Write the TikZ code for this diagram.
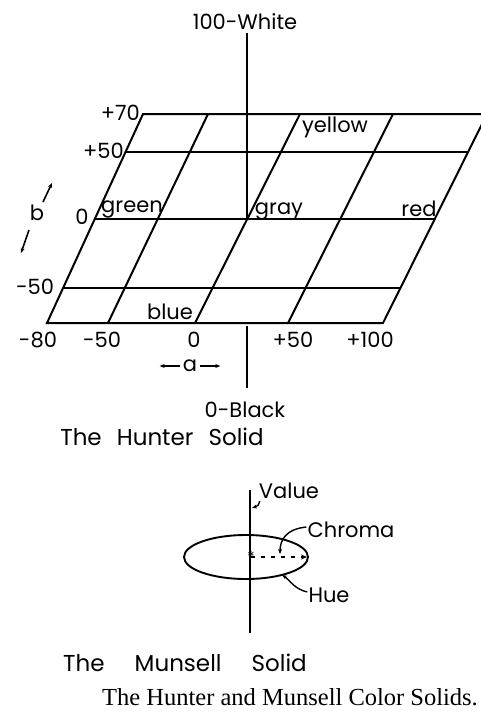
\documentclass[tikz,border=0pt]{standalone}
\usepackage{fontspec}
\setmainfont{Poppins}
\newfontfamily\capfont{Liberation Serif}
\usetikzlibrary{arrows.meta}
\begin{document}
\begin{tikzpicture}[x=1pt,y=-1pt,
  grid/.style={line width=2pt, line cap=round},
  axis/.style={line width=2.4pt},
  lbl/.style={inner sep=0pt, font=\fontsize{21}{22}\selectfont},
  ttl/.style={inner sep=0pt, font=\fontsize{23}{24}\selectfont},
  lead/.style={line width=1.4pt, -{Stealth[length=5pt,width=4pt]}},
  small/.style={line width=1.6pt, -{Stealth[length=5pt,width=4pt]}}]
\useasboundingbox (0,0) rectangle (481,716);
\begin{scope}
\clip (0,0) rectangle (481,716);
% ---- Hunter solid ----
\coordinate (BL) at (47,323);
\coordinate (BR) at (383,323);
\coordinate (TL) at (143,114);
\coordinate (TR) at (487,114);
\draw[grid] (TR) -- (TL) -- (BL) -- (BR) -- (TR);
% horizontal lines
\draw[grid] (125.5,152) -- (468,152);
\draw[grid] (94.8,219) -- (434.7,219);
\draw[grid] (63.1,288) -- (400.4,288);
% slanted lines
\draw[grid] (108,323) -- (208,114);
\draw[grid] (195,323) -- (300,114);
\draw[grid] (288,323) -- (393,114);
% vertical L axis
\coordinate (Ltop) at (247,33);
\coordinate (O) at (247,219);
\coordinate (Lb1) at (247,326);
\coordinate (Lb2) at (247,388);
\draw[axis] (Ltop) -- (O);
\draw[axis] (Lb1) -- (Lb2);
\end{scope}
% labels
\node[lbl] (white) at (245,22) {100-White};
\node[lbl,anchor=east] (p70) at (140,113) {+70};
\node[lbl,anchor=east] (p50) at (124,151) {+50};
\node[lbl] (b0) at (82,217) {0};
\node[lbl] (bm50) at (35,287) {-50};
\node[lbl] (b) at (37,213) {b};
\coordinate (bu1) at (43,202); \coordinate (bu2) at (52,183);
\coordinate (bd1) at (29,230); \coordinate (bd2) at (21,253);
\draw[small] (bu1) -- (bu2);
\draw[small] (bd1) -- (bd2);
\node[lbl] (am80) at (38,340) {-80};
\node[lbl] (am50) at (102,340) {-50};
\node[lbl] (a0) at (194,340) {0};
\node[lbl] (ap50) at (293,340) {+50};
\node[lbl] (ap100) at (370,340) {+100};
\node[lbl] (a) at (190,366) {a};
\draw[small] ([xshift=-3pt]a.west) -- ++(-20,0);
\draw[small] ([xshift=3pt]a.east) -- ++(20,0);
\node[lbl] (black) at (245,410) {0-Black};
\node[ttl] (hunter) at (162,437) {The\hspace{9pt} Hunter\hspace{9pt} Solid};
\node[lbl] (green) at (132,209) {green};
\node[lbl] (gray) at (279,211) {gray};
\node[lbl] (yellow) at (335,127) {yellow};
\node[lbl] (red) at (419,209) {red};
\node[lbl] (blue) at (170,312) {blue};
% ---- Munsell solid ----
\coordinate (Vtop) at (250,490);
\coordinate (Vbot) at (250,633);
\draw[axis] (Vtop) -- (Vbot);
\draw[line width=1.9pt] (246,557) ellipse [x radius=62, y radius=22];
\coordinate (C0) at (251,557);
\coordinate (C1) at (307,557);
\draw[line width=1.6pt, dash pattern=on 4pt off 6pt, -{Stealth[length=6pt,width=5pt]}] (C0) -- (C1);
\node[inner sep=0pt, font=\fontsize{15}{15}\selectfont] (star) at (C0) {*};
\node[lbl] (value) at (289,491) {Value};
\node[lbl] (chroma) at (351,530) {Chroma};
\node[lbl] (hue) at (329,595) {Hue};
\coordinate (vend) at (252,508);
\coordinate (cend) at (280,554);
\coordinate (hend) at (282,575);
\draw[lead] (value.south west) ++(1,2) .. controls (258,506) .. (vend);
\draw[lead] (chroma.west) ++(-1,-3) .. controls (286,529) and (280,540) .. (cend);
\draw[lead] (hue.west) ++(-1,-3) .. controls (294,589) and (290,580) .. (hend);
\node[ttl] (munsell) at (185,663) {The\hspace{24pt} Munsell\hspace{24pt} Solid};
\node[inner sep=0pt, font=\capfont\fontsize{24.5}{25}\selectfont] (caption) at (290,697) {The Hunter and Munsell Color Solids.};
\end{tikzpicture}
\end{document}
